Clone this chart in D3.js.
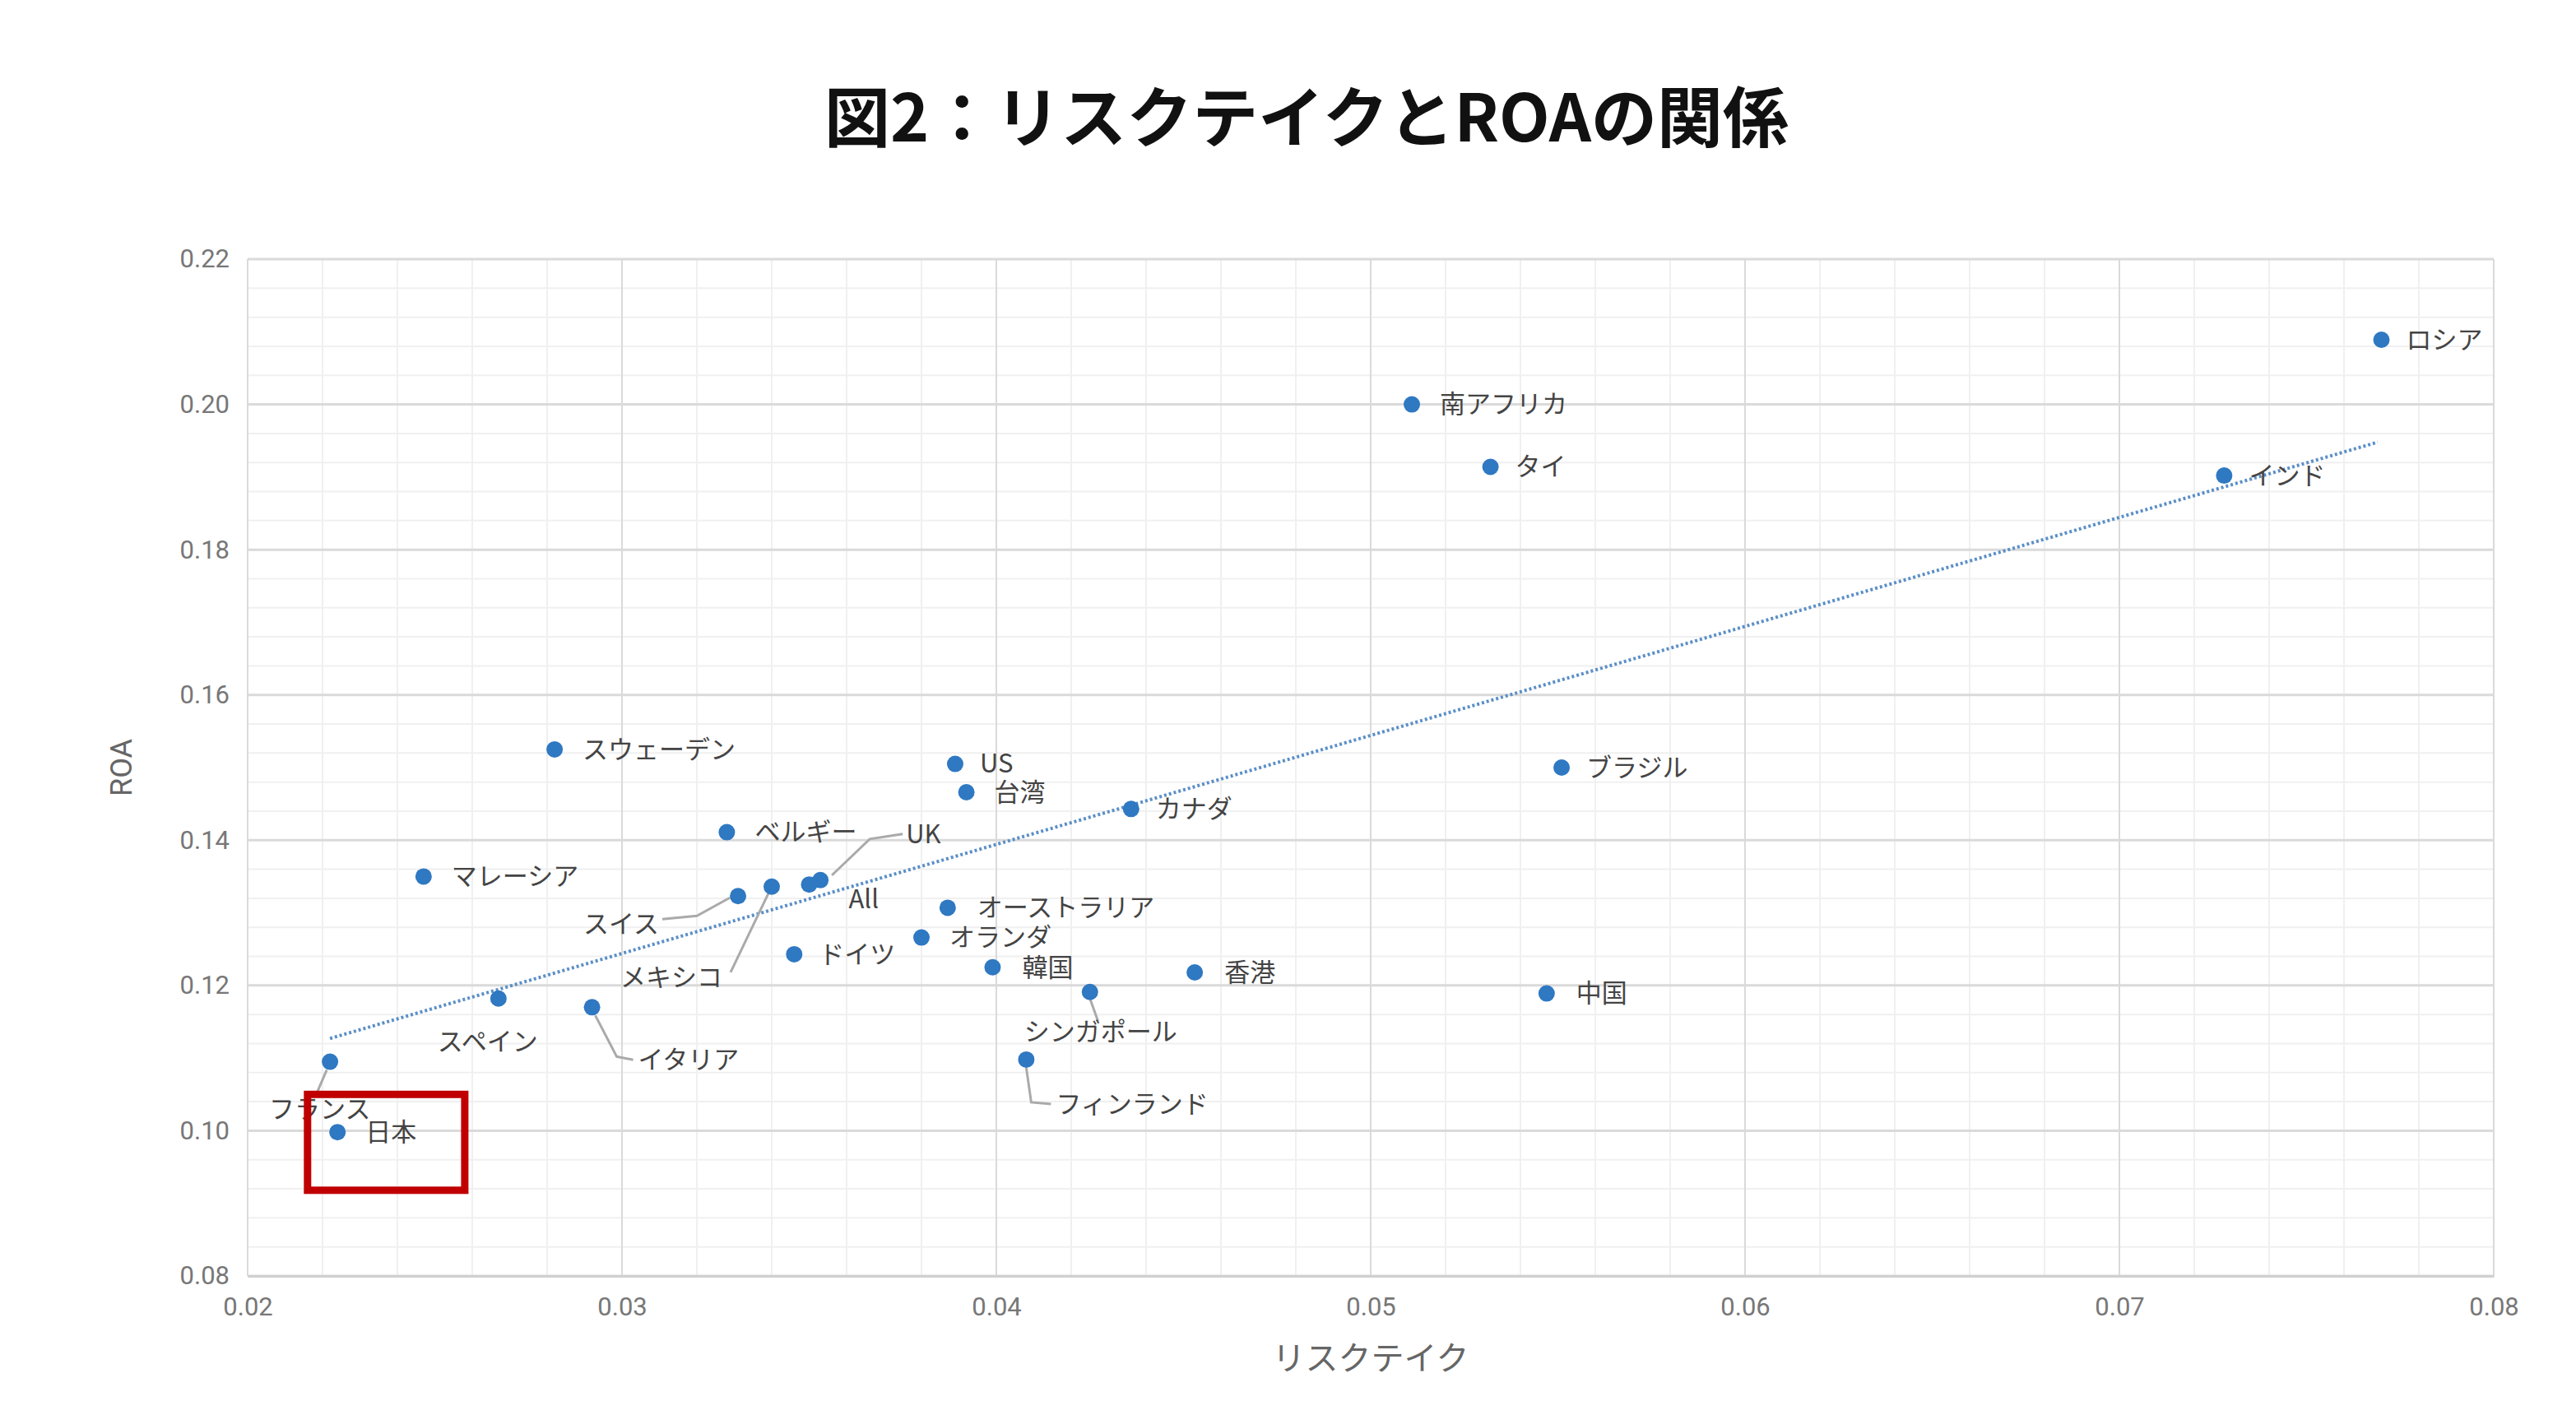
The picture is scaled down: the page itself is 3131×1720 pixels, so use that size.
<!DOCTYPE html>
<html><head><meta charset="utf-8">
<script src="https://cdn.jsdelivr.net/npm/d3@7"></script>
<style>body{margin:0;background:#fff}text{font-family:"Noto Sans CJK JP","Noto Sans",sans-serif}</style>
</head><body><svg id="c" width="3131" height="1720"></svg>
<script>
const countries=["ロシア","南アフリカ","タイ","インド","ブラジル","中国","香港","カナダ","US","台湾","スウェーデン","ベルギー","マレーシア","UK","All","スイス","メキシコ","オーストラリア","オランダ","ドイツ","韓国","シンガポール","フィンランド","スペイン","イタリア","フランス","日本"];
const riskTake=[0.0770,0.0511,0.0532,0.0728,0.0551,0.0547,0.0453,0.0436,0.0389,0.0392,0.0282,0.0328,0.0247,0.0353,0.0350,0.0331,0.0340,0.0387,0.0380,0.0346,0.0399,0.0425,0.0408,0.0267,0.0292,0.0222,0.0224];
const roa=[0.2089,0.2000,0.1914,0.1902,0.1500,0.1189,0.1218,0.1443,0.1505,0.1466,0.1525,0.1411,0.1350,0.1345,0.1339,0.1323,0.1336,0.1307,0.1266,0.1243,0.1225,0.1191,0.1098,0.1182,0.1170,0.1095,0.0998];
const xTicks=[0.02,0.03,0.04,0.05,0.06,0.07,0.08];
const yTicks=[0.08,0.10,0.12,0.14,0.16,0.18,0.20,0.22];
const trendX=[0.0222,0.0769], trendY=[0.1127,0.1948];
const highlightX=[0.0216,0.0258], highlightY=[0.1050,0.0918];
// label offsets: [dx,dy,anchor,leader points]
const lab={"ロシア":[30,0],"南アフリカ":[34,0],"タイ":[30,0],"インド":[30,0],"ブラジル":[30,0],"中国":[36,0],"香港":[36,0],"カナダ":[30,0],"US":[30,0],"台湾":[34,0],"スウェーデン":[34,0],"ベルギー":[34,0],"マレーシア":[34,0],
"UK":[104,-56,"start",[[14,-6],[60,-50],[100,-56]]],"All":[48,18],"スイス":[-96,34,"end",[[-10,2],[-50,24],[-92,28]]],"メキシコ":[-60,110,"end",[[-4,8],[-50,104]]],
"オーストラリア":[36,0],"オランダ":[34,0],"ドイツ":[30,0],"韓国":[36,0],"シンガポール":[-80,48,"start",[[0,8],[10,36]]],"フィンランド":[36,54,"start",[[0,10],[6,52],[30,54]]],
"スペイン":[-74,52,"start"],"イタリア":[56,64,"start",[[4,10],[30,60],[50,64]]],"フランス":[-74,58,"start",[[-4,10],[-16,38]]],"日本":[34,0]};
const svg=d3.select("#c");
const L=301,R=3031,T=315,B=1551;
const x=d3.scaleLinear().domain([0.02,0.08]).range([L,R]);
const y=d3.scaleLinear().domain([0.08,0.22]).range([B,T]);
const g=svg.append("g");
g.selectAll(".mx").data(d3.range(0.02,0.0801,0.002)).enter().append("line").attr("x1",d=>x(d)).attr("x2",d=>x(d)).attr("y1",T).attr("y2",B).attr("stroke","#f0f0f0").attr("stroke-width",2);
g.selectAll(".my").data(d3.range(0.08,0.2201,0.004)).enter().append("line").attr("y1",d=>y(d)).attr("y2",d=>y(d)).attr("x1",L).attr("x2",R).attr("stroke","#f0f0f0").attr("stroke-width",2);
g.selectAll(".gx").data(xTicks).enter().append("line").attr("x1",d=>x(d)).attr("x2",d=>x(d)).attr("y1",T).attr("y2",B).attr("stroke","#dadada").attr("stroke-width",2);
g.selectAll(".gy").data(yTicks).enter().append("line").attr("y1",d=>y(d)).attr("y2",d=>y(d)).attr("x1",L).attr("x2",R).attr("stroke","#dadada").attr("stroke-width",3);
const ax=svg.append("g").attr("transform",`translate(0,${B})`).call(d3.axisBottom(x).tickValues(xTicks).tickFormat(d3.format(".2f")).tickSize(0).tickPadding(26));
const ay=svg.append("g").attr("transform",`translate(${L},0)`).call(d3.axisLeft(y).tickValues(yTicks).tickFormat(d3.format(".2f")).tickSize(0).tickPadding(22));
[ax,ay].forEach(a=>{a.select(".domain").attr("stroke","#d0d0d0").attr("stroke-width",3);a.selectAll("text").attr("font-size",31).attr("fill","#777").style("font-family","Roboto,sans-serif");});
ay.select(".domain").remove();
svg.append("text").attr("x",(L+R)/2).attr("y",1665).attr("text-anchor","middle").attr("font-size",40).attr("fill","#666").text("リスクテイク");
svg.append("text").attr("transform",`translate(160,${(T+B)/2}) rotate(-90)`).attr("text-anchor","middle").attr("font-size",36).attr("fill","#666").style("font-family","Roboto,sans-serif").text("ROA");
svg.append("text").attr("x",1588).attr("y",172).attr("text-anchor","middle").attr("font-size",80).attr("font-weight","bold").attr("fill","#111").text("図2：リスクテイクとROAの関係");
// trend line
svg.append("line").attr("x1",x(trendX[0])).attr("y1",y(trendY[0])).attr("x2",x(trendX[1])).attr("y2",y(trendY[1])).attr("stroke","#5b8fc7").attr("stroke-width",4).attr("stroke-dasharray","3,3");
const data=countries.map((c,i)=>({c,x:riskTake[i],y:roa[i]}));
// leaders
data.forEach(d=>{const o=lab[d.c];if(o&&o[3]){const px=x(d.x),py=y(d.y);
 svg.append("polyline").attr("points",o[3].map(p=>[px+p[0],py+p[1]].join(",")).join(" ")).attr("fill","none").attr("stroke","#aaa").attr("stroke-width",3);}});
svg.selectAll(".pt").data(data).enter().append("circle").attr("cx",d=>x(d.x)).attr("cy",d=>y(d.y)).attr("r",10).attr("fill","#2f78c2");
svg.selectAll(".lb").data(data).enter().append("text").attr("x",d=>x(d.x)+lab[d.c][0]).attr("y",d=>y(d.y)+lab[d.c][1]).attr("dy","0.35em")
 .attr("text-anchor",d=>lab[d.c][2]||"start").attr("font-size",31).attr("fill","#444").text(d=>d.c);
svg.append("rect").attr("x",x(highlightX[0])).attr("y",y(highlightY[0])).attr("width",x(highlightX[1])-x(highlightX[0])).attr("height",y(highlightY[1])-y(highlightY[0])).attr("fill","none").attr("stroke","#c00000").attr("stroke-width",9);
</script></body></html>
